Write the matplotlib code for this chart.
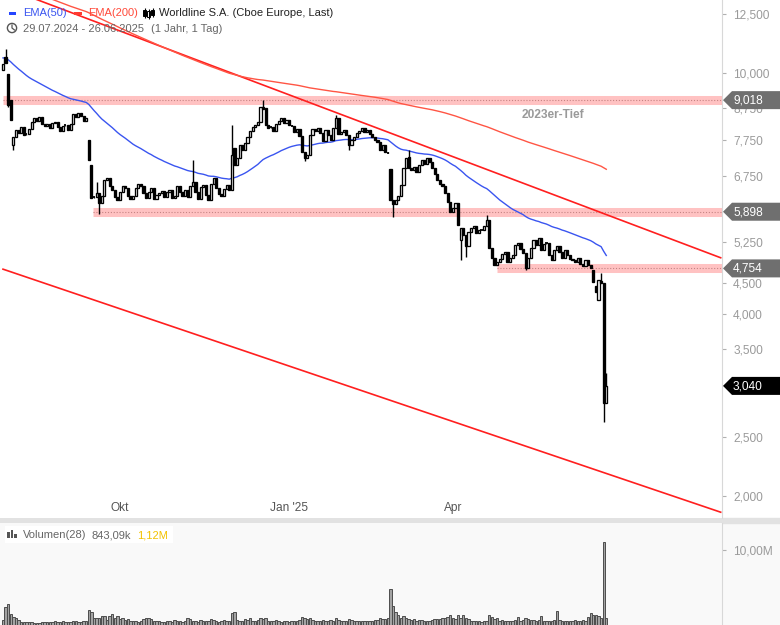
import numpy as np
import pandas as pd
import matplotlib
matplotlib.use("Agg")
import matplotlib.pyplot as plt
from matplotlib.patches import Polygon, Rectangle, Circle
from matplotlib.ticker import FixedLocator, FuncFormatter, NullLocator

plt.rcParams['font.family'] = ['Liberation Sans', 'DejaVu Sans']

# -------------------------------------------------------------------------
# Worldline S.A. (Cboe Europe), daily sessions 29.07.2024 - 26.06.2025
# -------------------------------------------------------------------------
closes = [
    10.35, 10.39, 8.85, 8.36, 7.84, 8.05, 7.96, 8.14, 7.90, 7.93,
    8.08, 8.30, 8.43, 8.33, 8.46, 8.23, 8.17, 8.23, 8.11, 8.26,
    8.30, 8.14, 8.02, 8.17, 8.20, 8.05, 8.23, 8.55, 8.46, 8.59,
    8.49, 8.33, 8.43, 7.18, 6.22, 6.24, 6.34, 6.10, 6.27, 6.66,
    6.71, 6.51, 6.41, 6.24, 6.17, 6.36, 6.51, 6.46, 6.27, 6.19,
    6.27, 6.46, 6.56, 6.51, 6.34, 6.22, 6.36, 6.46, 6.19, 6.29,
    6.34, 6.39, 6.24, 6.36, 6.41, 6.22, 6.27, 6.51, 6.36, 6.27,
    6.41, 6.24, 6.51, 6.61, 6.36, 6.19, 6.49, 6.53, 6.29, 6.17,
    6.56, 6.71, 6.46, 6.31, 6.27, 6.44, 6.53, 6.41, 7.32, 7.05,
    7.24, 7.60, 7.46, 7.66, 7.84, 8.02, 8.14, 8.20, 8.30, 8.79,
    8.72, 8.20, 8.11, 8.14, 8.02, 8.23, 8.33, 8.43, 8.26, 8.36,
    8.20, 8.17, 7.99, 8.08, 7.87, 7.40, 7.24, 7.32, 7.90, 8.08,
    8.02, 8.11, 7.96, 7.72, 8.05, 7.90, 7.75, 8.11, 8.43, 7.93,
    7.99, 8.05, 7.90, 7.60, 7.75, 7.84, 7.96, 8.02, 8.11, 7.99,
    8.05, 7.93, 7.84, 7.75, 7.69, 7.46, 7.60, 7.40, 7.38, 6.17,
    6.08, 6.17, 6.27, 6.53, 6.97, 7.24, 6.97, 6.91, 6.99, 6.86,
    7.05, 7.18, 7.07, 7.24, 7.13, 6.97, 6.81, 6.66, 6.56, 6.51,
    6.34, 6.12, 5.89, 5.99, 6.10, 5.61, 5.55, 5.40, 5.18, 5.46,
    5.55, 5.59, 5.44, 5.50, 5.50, 5.59, 5.72, 5.14, 4.95, 4.82,
    4.87, 4.93, 5.02, 5.06, 4.87, 4.95, 5.00, 5.20, 5.24, 5.12,
    5.04, 4.76, 4.95, 5.14, 5.30, 5.20, 5.34, 5.10, 5.22, 5.24,
    5.00, 4.91, 5.10, 5.18, 5.06, 4.95, 5.10, 5.00, 4.93, 4.91,
    4.87, 4.95, 4.84, 4.80, 4.91, 4.82, 4.76, 4.52, 4.35, 4.55,
    4.50, 2.85, 3.04,
]

# sessions that did not open at the prior close
gap_opens = {0: 10.10, 1: 10.63, 2: 9.96, 3: 9.02, 4: 7.60, 33: 7.75, 34: 7.05,
             89: 7.52, 101: 8.75, 149: 6.94, 156: 7.27, 176: 5.30, 227: 4.73,
             228: 4.45, 229: 4.22, 230: 4.53, 231: 4.50, 232: 2.85}

# intraday extremes outside the candle body
highs = {1: 10.95, 36: 6.61, 73: 7.18, 88: 8.20, 100: 9.02, 128: 8.52,
         156: 7.46, 186: 5.83, 230: 4.68, 232: 3.19}
lows = {2: 8.80, 4: 7.46, 37: 5.85, 116: 7.15, 133: 7.46, 150: 5.79,
        176: 4.91, 178: 4.96, 201: 4.73, 231: 2.65}

# volume in millions of shares
volumes = [
    0.67, 2.4, 2.8, 1.5, 1.1, 0.9, 0.67, 0.4, 0.45, 0.4,
    0.45, 0.35, 0.3, 0.3, 0.3, 0.35, 0.4, 0.4, 0.35, 0.45,
    0.5, 0.4, 0.45, 0.5, 0.4, 0.35, 0.4, 0.5, 0.6, 0.45,
    0.4, 0.5, 0.55, 2.0, 1.7, 0.95, 0.9, 0.9, 1.2, 1.2,
    0.7, 1.15, 1.5, 0.95, 1.2, 0.75, 0.9, 0.7, 0.75, 0.55,
    0.5, 0.6, 0.45, 0.5, 0.8, 0.9, 0.9, 0.85, 0.6, 0.55,
    0.5, 0.45, 0.4, 0.6, 0.5, 0.45, 0.7, 0.6, 0.5, 0.45,
    0.55, 0.9, 0.8, 0.6, 0.5, 0.45, 0.7, 0.55, 0.6, 0.5,
    0.8, 0.65, 0.5, 0.45, 0.6, 0.7, 0.55, 0.5, 1.6, 1.7,
    0.7, 0.6, 0.55, 0.8, 0.65, 0.9, 0.6, 0.55, 0.7, 1.0,
    0.8, 0.9, 0.6, 0.55, 0.5, 0.7, 0.6, 0.45, 0.5, 0.55,
    0.4, 0.5, 0.6, 0.55, 0.7, 1.1, 1.0, 0.8, 0.9, 0.7,
    0.6, 0.55, 0.5, 0.7, 0.6, 0.55, 0.65, 0.6, 0.9, 0.7,
    0.6, 0.55, 0.5, 0.8, 0.65, 0.6, 0.5, 0.55, 0.6, 0.5,
    0.55, 0.6, 0.5, 0.65, 0.7, 0.9, 0.75, 0.8, 1.0, 4.8,
    2.5, 1.8, 1.4, 1.0, 1.2, 0.9, 0.8, 0.7, 0.75, 0.6,
    0.65, 0.7, 0.6, 0.55, 0.6, 0.7, 0.8, 0.75, 0.8, 0.9,
    1.0, 1.1, 1.3, 0.9, 0.8, 1.4, 0.9, 1.3, 1.0, 0.8,
    0.6, 0.55, 0.6, 0.5, 0.45, 0.5, 0.6, 1.3, 1.1, 0.8,
    0.9, 0.6, 0.7, 0.55, 0.5, 0.6, 0.55, 0.7, 1.1, 0.5,
    0.7, 0.9, 0.75, 0.65, 0.7, 0.6, 0.7, 1.2, 0.6, 0.5,
    0.5, 0.6, 0.65, 1.9, 0.7, 0.6, 0.55, 0.5, 0.55, 0.6,
    0.7, 0.5, 0.6, 0.7, 0.6, 1.1, 1.6, 1.3, 1.3, 1.2,
    1.0, 11.1, 0.9,
]

# moving averages carry history from before the window
ema50_seed = 10.6
ema200_seed = 14.3

# horizontal zones: level and first session they are drawn from
zone_levels = [9.018, 5.898, 4.754]
zone_start = [0, 34.6, 190]
last_price = 3.040

# hand-drawn trend channel (session index, price)
upper_trend_idx = [0, 276]
upper_trend_px = [13.88, 4.95]
lower_trend_idx = [0, 276]
lower_trend_px = [4.74, 1.88]

month_labels = ["Okt", "Jan '25", "Apr"]
month_idx = [45, 110, 173]

# 6,000 and 3,000 sit fully under the price tags, so they are left out
price_ticks = [12.5, 10.0, 8.75, 7.75, 6.75, 5.25, 4.5, 4.0, 3.5, 2.5, 2.0]
volume_ticks = [10.0]

# -------------------------------------------------------------------------
n = len(closes)
idx = np.arange(n)
opens = [gap_opens.get(i, closes[i - 1] if i else closes[0]) for i in range(n)]
hi = [highs.get(i, max(opens[i], closes[i])) for i in range(n)]
lo = [lows.get(i, min(opens[i], closes[i])) for i in range(n)]

ema50 = pd.Series([ema50_seed] + closes).ewm(span=50, adjust=False).mean().to_numpy()[1:]
ema200 = pd.Series([ema200_seed] + closes).ewm(span=200, adjust=False).mean().to_numpy()[1:]

W, H = 780, 625
XMIN, XMAX = -1.15, 276.5


def box(x0, y0, x1, y1):
    return [x0 / W, 1 - y1 / H, (x1 - x0) / W, (y1 - y0) / H]


def de(v, nd=3):
    return f"{v:.{nd}f}".replace('.', ',')


fig = plt.figure(figsize=(W / 100, H / 100), dpi=100)
fig.patch.set_facecolor('white')
fig.patches.append(Rectangle((0, 0), 1, 102 / H, transform=fig.transFigure,
                             color='#f9f9f9', zorder=-2))
fig.patches.append(Rectangle((0, 102 / H), 1, 5 / H, transform=fig.transFigure,
                             color='#e2e2e2', zorder=-2))

# ---- price panel
ax = fig.add_axes(box(0, 0, 722, 518))
ax.set_yscale('log')
ax.set_xlim(XMIN, XMAX)
ax.set_ylim(1.839, 13.2)
for side in ('top', 'left', 'bottom'):
    ax.spines[side].set_visible(False)
ax.spines['right'].set_color('#d8d8d8')
ax.yaxis.tick_right()
ax.yaxis.set_major_locator(FixedLocator(price_ticks))
ax.yaxis.set_minor_locator(NullLocator())
ax.yaxis.set_major_formatter(FuncFormatter(lambda v, _: de(v)))
ax.tick_params(axis='y', length=3, color='#b0b0b0', labelcolor='#9a9a9a',
               labelsize=8.6, pad=5)
ax.set_xticks([])

for lvl, start in zip(zone_levels, zone_start):
    ax.hlines(lvl, start, XMAX, lw=6.5, color='#ffc2c2', zorder=1)
    ax.hlines(lvl, start, XMAX, lw=0.8, color='#c58484',
              linestyles=(0, (1, 1.6)), zorder=1.1)

ax.plot(upper_trend_idx, upper_trend_px, color='#ff1f1f', lw=1.2, zorder=2)
ax.plot(lower_trend_idx, lower_trend_px, color='#ff1f1f', lw=1.2, zorder=2)
ax.plot(idx, ema200, color='#ff5544', lw=1.0, zorder=2)
ax.plot(idx, ema50, color='#3a55f0', lw=1.0, zorder=2)

# candles
ax.vlines(idx, lo, hi, color='black', lw=1.0, zorder=3)
for i in range(n):
    o, c = opens[i], closes[i]
    b, t = min(o, c), max(o, c)
    if t - b < 0.004 * b:
        ax.hlines(c, i - 0.42, i + 0.42, color='black', lw=1.3, zorder=4)
        continue
    face = 'white' if c >= o else 'black'
    ax.add_patch(Rectangle((i - 0.42, b), 0.84, t - b, facecolor=face,
                           edgecolor='black', lw=0.95, zorder=4))

ax.text(211.5, 8.52, "2023er-Tief", ha='center', va='center', color='#9a9a9a',
        fontsize=8.6, fontweight='bold', zorder=5)

for lab, mi in zip(month_labels, month_idx):
    ax.text(mi, 0.019, lab, transform=ax.get_xaxis_transform(), ha='center',
            va='center', color='#555555', fontsize=8.6)

# ---- volume panel
axv = fig.add_axes(box(0, 523, 722, 625))
axv.set_facecolor('#f9f9f9')
axv.set_xlim(XMIN, XMAX)
axv.set_ylim(0, 13.6)
for side in ('top', 'left', 'bottom'):
    axv.spines[side].set_visible(False)
axv.spines['right'].set_color('#d8d8d8')
axv.yaxis.tick_right()
axv.yaxis.set_major_locator(FixedLocator(volume_ticks))
axv.yaxis.set_major_formatter(FuncFormatter(lambda v, _: de(v, 2) + "M"))
axv.tick_params(axis='y', length=3, color='#b0b0b0', labelcolor='#9a9a9a',
                labelsize=8.6, pad=5)
axv.set_xticks([])
axv.bar(idx, volumes, width=0.9, color='#a3a3a3', edgecolor='#4d4d4d', lw=0.7)

# ---- overlay in pixel units: price tags and legends
ov = fig.add_axes([0, 0, 1, 1], zorder=10)
ov.set_xlim(0, W)
ov.set_ylim(H, 0)
ov.axis('off')
ov.patch.set_alpha(0)


def price_tag(value, color):
    y = H - ax.transData.transform((0, value))[1]
    ov.add_patch(Polygon([(723, y), (732, y - 9), (780, y - 9), (780, y + 9),
                          (732, y + 9)], closed=True, color=color, lw=0))
    ov.text(733, y + 0.5, de(value), color='white', fontsize=8.6,
            ha='left', va='center')


for lvl in zone_levels:
    price_tag(lvl, '#6f6f6f')
price_tag(last_price, 'black')

# legend, first row
ov.add_patch(Rectangle((9, 12), 7, 3, color='#2545ff', lw=0))
ov.text(23, 13, "EMA(50)", color='#3a55f0', fontsize=8, va='center')
ov.add_patch(Rectangle((74, 12), 8, 3, color='#ff3b30', lw=0))
ov.text(88, 13, "EMA(200)", color='#ff4a3a', fontsize=8, va='center')
for k, (cx, b, t) in enumerate([(144.5, 10, 16), (148.5, 11, 17), (152.5, 10, 15)]):
    ov.vlines(cx, b - 2, t + 2, color='black', lw=0.8)
    ov.add_patch(Rectangle((cx - 1.2, b), 2.4, t - b, facecolor='white' if k == 1 else 'black',
                           edgecolor='black', lw=0.7))
ov.text(159, 13, "Worldline S.A. (Cboe Europe, Last)", color='#222222',
        fontsize=8, va='center')

# legend, second row
ov.add_patch(Circle((12, 28), 4.6, fill=False, edgecolor='#555555', lw=1.0))
ov.plot([12, 12, 14.5], [25, 28, 30], color='#555555', lw=0.9)
ov.text(23, 28.5, "29.07.2024 - 26.06.2025", color='#666666', fontsize=8, va='center')
ov.text(151, 28.5, "(1 Jahr, 1 Tag)", color='#666666', fontsize=8, va='center')

# volume legend
ov.add_patch(Rectangle((5, 526), 168, 17, color='white', lw=0))
for bx, bt in [(7, 532), (10.5, 530), (14, 534)]:
    ov.add_patch(Rectangle((bx, bt), 2.6, 538 - bt, color='#555555', lw=0))
ov.text(23, 535, "Volumen(28)", color='#666666', fontsize=8, va='center')
ov.text(91, 535, "843,09k", color='#666666', fontsize=8, va='center')
ov.text(137, 535, "1,12M", color='#f2c200', fontsize=8, va='center')

fig.savefig("out.png", dpi=100)
